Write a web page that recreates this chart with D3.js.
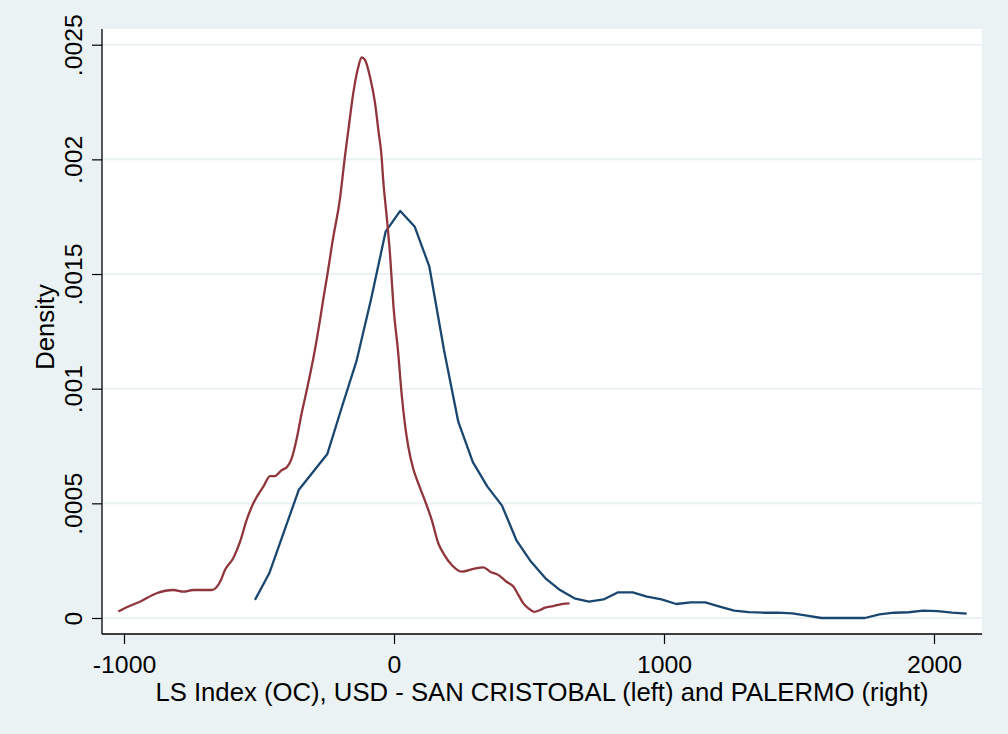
<!DOCTYPE html>
<html>
<head>
<meta charset="utf-8">
<script src="https://cdn.jsdelivr.net/npm/d3@7"></script>
<style>
  html, body { margin: 0; padding: 0; background: #EAF2F3; }
  svg { display: block; }
  text { font-family: "Liberation Sans", Arial, sans-serif; fill: #000; }
</style>
</head>
<body>
<svg id="chart" width="1008" height="734"></svg>
<script>
// ---- data ----
const xTicks = [-1000, 0, 1000, 2000];
const xTickLabels = ["-1000", "0", "1000", "2000"];
const yTicks = [0, 0.0005, 0.001, 0.0015, 0.002, 0.0025];
const yTickLabels = ["0", ".0005", ".001", ".0015", ".002", ".0025"];
const xTitle = "LS Index (OC), USD - SAN CRISTOBAL (left) and PALERMO (right)";
const yTitle = "Density";

// SAN CRISTOBAL (left, maroon)
const sanCristobalX = [-1021, -990, -941, -879, -817, -780, -743, -675, -644, -626, -595, -570, -546, -521, -484, -459, -441, -416, -397, -379, -360, -342, -323, -293, -274, -262, -245, -228, -200, -181, -169, -151, -132, -120, -107, -89, -70, -58, -46, -40, -27, -15, -2, 16, 28, 41, 53, 71, 90, 109, 140, 164, 183, 214, 251, 294, 331, 356, 386, 417, 442, 461, 479, 498, 519, 541, 559, 590, 621, 650];
const sanCristobalY = [0.000028, 0.000047, 0.000071, 0.000108, 0.000122, 0.000115, 0.000122, 0.000122, 0.000158, 0.000209, 0.000262, 0.000333, 0.000427, 0.0005, 0.000573, 0.000619, 0.000619, 0.000645, 0.000657, 0.000696, 0.000784, 0.000893, 0.000994, 0.001169, 0.0013, 0.00139, 0.00151, 0.00164, 0.00183, 0.00202, 0.002128, 0.002288, 0.002404, 0.002445, 0.002433, 0.00236, 0.002244, 0.002128, 0.002012, 0.00191, 0.00175, 0.00159, 0.00136, 0.00115, 0.00098, 0.00084, 0.000747, 0.000652, 0.000587, 0.000529, 0.000427, 0.000326, 0.000282, 0.000231, 0.000202, 0.000214, 0.000221, 0.000202, 0.000188, 0.000158, 0.000137, 0.0001, 0.000064, 0.000042, 0.000027, 0.000035, 0.000045, 0.000052, 0.000061, 0.000064];

// PALERMO (right, navy)
const palermoX = [-515, -462, -408, -353, -300, -247, -193, -139, -85, -31, 23, 77, 131, 185, 238, 292, 346, 400, 453, 507, 561, 615, 668, 722, 776, 830, 884, 937, 991, 1045, 1099, 1153, 1206, 1260, 1314, 1368, 1421, 1475, 1529, 1583, 1637, 1691, 1744, 1798, 1852, 1906, 1960, 2013, 2067, 2121];
const palermoY = [0.000079, 0.000195, 0.000374, 0.000558, 0.000637, 0.000715, 0.00092, 0.00112, 0.00139, 0.001685, 0.001775, 0.001706, 0.001532, 0.00117, 0.000856, 0.00068, 0.000573, 0.00049, 0.00034, 0.000246, 0.000173, 0.000122, 0.000086, 0.000071, 0.000081, 0.000112, 0.000112, 0.000093, 0.000081, 0.000061, 0.000068, 0.000068, 0.00005, 0.000032, 0.000026, 0.000023, 0.000023, 0.00002, 0.00001, 0, 0, 0, 0, 0.000016, 0.000023, 0.000025, 0.000032, 0.00003, 0.000023, 0.000019];

// ---- layout ----
const svg = d3.select("#chart");
const plot = { left: 102, right: 982, top: 29, bottom: 634 };

const x = d3.scaleLinear().domain([-1000, 2000]).range([124, 934]);
const y = d3.scaleLinear().domain([0, 0.0025]).range([618, 44.7]);

// background
svg.append("rect").attr("x", 0).attr("y", 0).attr("width", 1008).attr("height", 734).attr("fill", "#EAF2F3");
svg.append("rect").attr("x", plot.left).attr("y", plot.top)
  .attr("width", plot.right - plot.left).attr("height", plot.bottom - plot.top).attr("fill", "#FFFFFF");

// gridlines
svg.append("g").selectAll("line").data(yTicks).join("line")
  .attr("x1", plot.left).attr("x2", plot.right)
  .attr("y1", d => y(d)).attr("y2", d => y(d))
  .attr("stroke", "#EAF2F3").attr("stroke-width", 2);

// y axis
const yAxis = d3.axisLeft(y).tickValues(yTicks).tickFormat((d, i) => yTickLabels[i]).tickSize(10).tickPadding(10);
const gy = svg.append("g").attr("transform", `translate(${plot.left},0)`).call(yAxis);
gy.select(".domain").remove();
gy.selectAll(".tick line").attr("stroke", "#000").attr("stroke-width", 1.2);
gy.selectAll(".tick text")
  .attr("font-size", 24.8).attr("fill", "#000")
  .attr("text-anchor", "middle")
  .attr("x", null).attr("dy", null)
  .attr("transform", "translate(-20,0) rotate(-90)");

svg.append("line").attr("x1", plot.left).attr("x2", plot.left)
  .attr("y1", plot.top).attr("y2", plot.bottom)
  .attr("stroke", "#000").attr("stroke-width", 1.3);

// x axis
const xAxis = d3.axisBottom(x).tickValues(xTicks).tickFormat((d, i) => xTickLabels[i]).tickSize(10).tickPadding(10);
const gx = svg.append("g").attr("transform", `translate(0,${plot.bottom})`).call(xAxis);
gx.select(".domain").remove();
gx.selectAll(".tick line").attr("stroke", "#000").attr("stroke-width", 1.2);
gx.selectAll(".tick text").attr("font-size", 24.8).attr("fill", "#000")
  .attr("y", 39).attr("dy", null);

svg.append("line").attr("x1", plot.left).attr("x2", plot.right)
  .attr("y1", plot.bottom).attr("y2", plot.bottom)
  .attr("stroke", "#000").attr("stroke-width", 1.3);

// titles
svg.append("text").attr("x", (plot.left + plot.right) / 2).attr("y", 700.5)
  .attr("text-anchor", "middle").attr("font-size", 25.7).text(xTitle);
svg.append("text").attr("transform", "translate(53.5,327) rotate(-90)")
  .attr("text-anchor", "middle").attr("font-size", 25.7).text(yTitle);

// curves
const palermo = palermoX.map((v, i) => [v, palermoY[i]]);
const sanCristobal = sanCristobalX.map((v, i) => [v, sanCristobalY[i]]);

svg.append("path").datum(palermo)
  .attr("d", d3.line().x(d => x(d[0])).y(d => y(d[1])).curve(d3.curveLinear))
  .attr("fill", "none").attr("stroke", "#1A476F").attr("stroke-width", 2.3)
  .attr("stroke-linejoin", "round");

svg.append("path").datum(sanCristobal)
  .attr("d", d3.line().x(d => x(d[0])).y(d => y(d[1])).curve(d3.curveMonotoneX))
  .attr("fill", "none").attr("stroke", "#90353B").attr("stroke-width", 2.3)
  .attr("stroke-linejoin", "round");
</script>
</body>
</html>
